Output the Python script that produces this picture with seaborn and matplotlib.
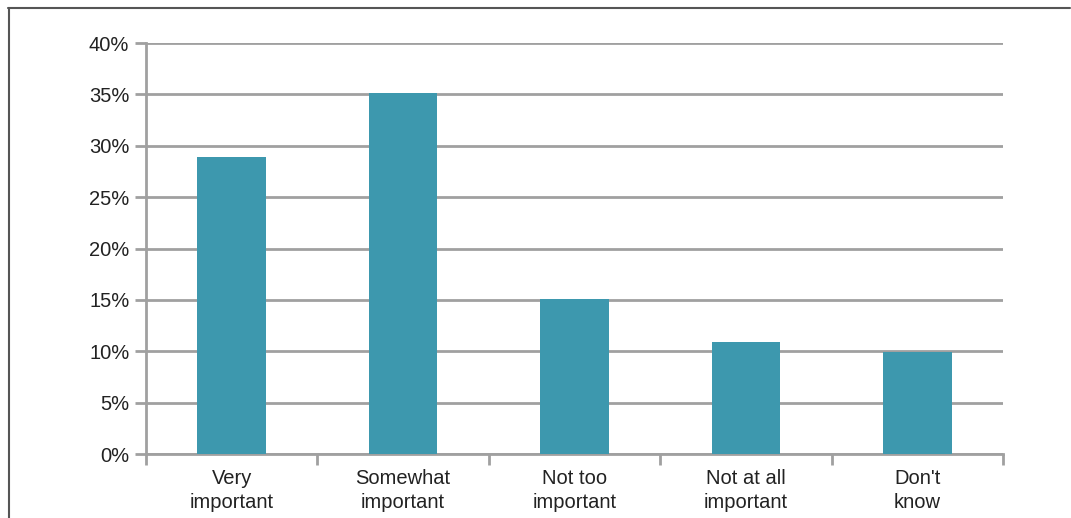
import numpy as np
import pandas as pd
import matplotlib
matplotlib.use('Agg')
import matplotlib.pyplot as plt
import seaborn as sns
from matplotlib.lines import Line2D
from matplotlib.ticker import FuncFormatter

# values
categories = ['Very\nimportant', 'Somewhat\nimportant', 'Not too\nimportant',
              'Not at all\nimportant', "Don't\nknow"]
shares = [28.9, 35.1, 15.1, 10.9, 9.9]
y_ticks = [0, 5, 10, 15, 20, 25, 30, 35, 40]

df = pd.DataFrame({'category': categories, 'share': shares})

sns.set_style('white')
plt.rcParams['font.family'] = ['Liberation Sans', 'DejaVu Sans']

fig = plt.figure(figsize=(10.71, 5.18), dpi=100)
ax = fig.add_axes([146/1071, 1 - 454/518, (1003 - 146)/1071, (454 - 43)/518])

grid_col = '#a0a0a0'
sns.barplot(data=df, x='category', y='share', color='#3d98ae', saturation=1,
            width=0.4, linewidth=0, ax=ax, zorder=3)

ax.set_ylim(0, 40)
ax.set_xlim(-0.5, 4.5)
ax.set_yticks(y_ticks)
ax.yaxis.set_major_formatter(FuncFormatter(lambda v, p: f'{v:.0f}%'))
ax.yaxis.grid(True, color=grid_col, lw=2)
ax.set_axisbelow(True)
ax.set_xlabel('')
ax.set_ylabel('')

for s in ['top', 'right']:
    ax.spines[s].set_visible(False)
for s in ['left', 'bottom']:
    ax.spines[s].set_color(grid_col)
    ax.spines[s].set_linewidth(2)

ax.tick_params(axis='y', length=8, width=2, color=grid_col, labelsize=14.5,
               labelcolor='#222222', pad=4, left=True)
ax.tick_params(axis='x', which='major', length=0, labelsize=14.5,
               labelcolor='#222222', pad=11)
for lbl in ax.get_xticklabels():
    lbl.set_linespacing(1.3)
ax.set_xticks(np.arange(-0.5, 5, 1), minor=True)
ax.tick_params(axis='x', which='minor', length=8, width=2, color=grid_col, bottom=True)

# outer frame (top and left only, as in the reference crop)
fig.add_artist(Line2D([8/1071, 1070/1071], [1 - 8/518, 1 - 8/518],
                      transform=fig.transFigure, color='#555555', lw=1.5))
fig.add_artist(Line2D([9/1071, 9/1071], [0, 1 - 8/518],
                      transform=fig.transFigure, color='#555555', lw=1.5))

fig.savefig('out.png', dpi=100)
